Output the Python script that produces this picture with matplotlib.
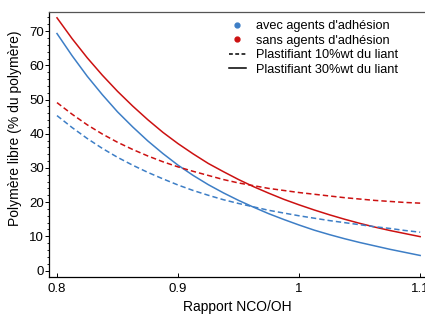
import matplotlib
matplotlib.use("Agg")
from matplotlib import pyplot as plt
from matplotlib.lines import Line2D
from matplotlib.ticker import MultipleLocator

plt.rcParams['font.family'] = ['Liberation Sans', 'DejaVu Sans']

# rapport NCO/OH
nco_oh = [0.8000, 0.8125, 0.8250, 0.8375, 0.8500, 0.8625, 0.8750, 0.8875,
          0.9000, 0.9125, 0.9250, 0.9375, 0.9500, 0.9625, 0.9750, 0.9875,
          1.0000, 1.0125, 1.0250, 1.0375, 1.0500, 1.0625, 1.0750, 1.0875, 1.1000]

# polymere libre (% du polymere)
avec_30 = [69.3, 62.8, 56.8, 51.4, 46.4, 42.0, 37.9, 34.2, 30.8, 27.8, 25.1, 22.7,
           20.5, 18.5, 16.6, 14.9, 13.3, 11.8, 10.5, 9.3, 8.2, 7.2, 6.2, 5.3, 4.4]
sans_30 = [73.9, 67.8, 62.2, 57.1, 52.4, 48.1, 44.1, 40.4, 37.1, 34.1, 31.3, 28.9,
           26.6, 24.5, 22.6, 20.8, 19.2, 17.7, 16.3, 15.0, 13.8, 12.7, 11.7, 10.8, 9.9]
avec_10 = [45.3, 41.8, 38.6, 35.7, 33.1, 30.8, 28.7, 26.8, 25.0, 23.4, 22.0, 20.7,
           19.6, 18.6, 17.6, 16.8, 16.0, 15.3, 14.6, 14.0, 13.4, 12.8, 12.3, 11.7, 11.2]
sans_10 = [49.1, 45.7, 42.6, 39.9, 37.5, 35.4, 33.5, 31.8, 30.3, 29.0, 27.8, 26.6,
           25.6, 24.8, 24.0, 23.4, 22.8, 22.3, 21.8, 21.3, 20.9, 20.5, 20.2, 19.9, 19.7]

blue = '#3d7ec6'
red = '#cc1111'

fig = plt.figure(figsize=(4.25, 3.14), dpi=100)
ax = fig.add_axes([49/425, 1-277/314, 1-49/425, (277-12)/314])

dash = (3.5, 2.0)
ax.plot(nco_oh, avec_30, color=blue, lw=1.1)
ax.plot(nco_oh, sans_30, color=red, lw=1.1)
ax.plot(nco_oh, avec_10, color=blue, lw=1.1, dashes=dash)
ax.plot(nco_oh, sans_10, color=red, lw=1.1, dashes=dash)

ax.set_xlim(0.7934, 1.104)
ax.set_ylim(-1.9, 75.6)
ax.set_xticks([0.8, 0.9, 1.0, 1.1])
ax.set_xticklabels(['0.8', '0.9', '1', '1.1'])
ax.yaxis.set_major_locator(MultipleLocator(10))
ax.yaxis.set_minor_locator(MultipleLocator(2))
ax.tick_params(axis='x', direction='in', length=3, width=0.7, labelsize=9.5, pad=4)
ax.tick_params(axis='y', which='major', direction='out', length=3, width=0.7, labelsize=9.5, pad=0.5)
ax.tick_params(axis='y', which='minor', direction='out', length=1.5, width=0.6)
ax.spines['right'].set_visible(False)
for s in ['left', 'bottom', 'top']:
    ax.spines[s].set_linewidth(0.9)
ax.spines['top'].set_color('#555555')

ax.set_xlabel('Rapport NCO/OH', fontsize=10, labelpad=4)
ax.set_ylabel('Polymère libre (% du polymère)', fontsize=10)
ax.yaxis.set_label_coords(-0.072, 0.56)

handles = [
    Line2D([], [], ls='none', marker='o', ms=3.5, color=blue),
    Line2D([], [], ls='none', marker='o', ms=3.5, color=red),
    Line2D([], [], color='black', lw=1.1, dashes=(2.5, 1.6)),
    Line2D([], [], color='black', lw=1.1),
]
labels = ["avec agents d'adhésion", "sans agents d'adhésion",
          "Plastifiant 10%wt du liant", "Plastifiant 30%wt du liant"]
fig.legend(handles, labels, loc='upper left', bbox_to_anchor=(229/425, 1-20/314),
           frameon=False, fontsize=9.2, handlelength=1.3, handletextpad=0.8,
           labelspacing=0.2, borderaxespad=0, borderpad=0)

fig.savefig('out.png', dpi=100)
